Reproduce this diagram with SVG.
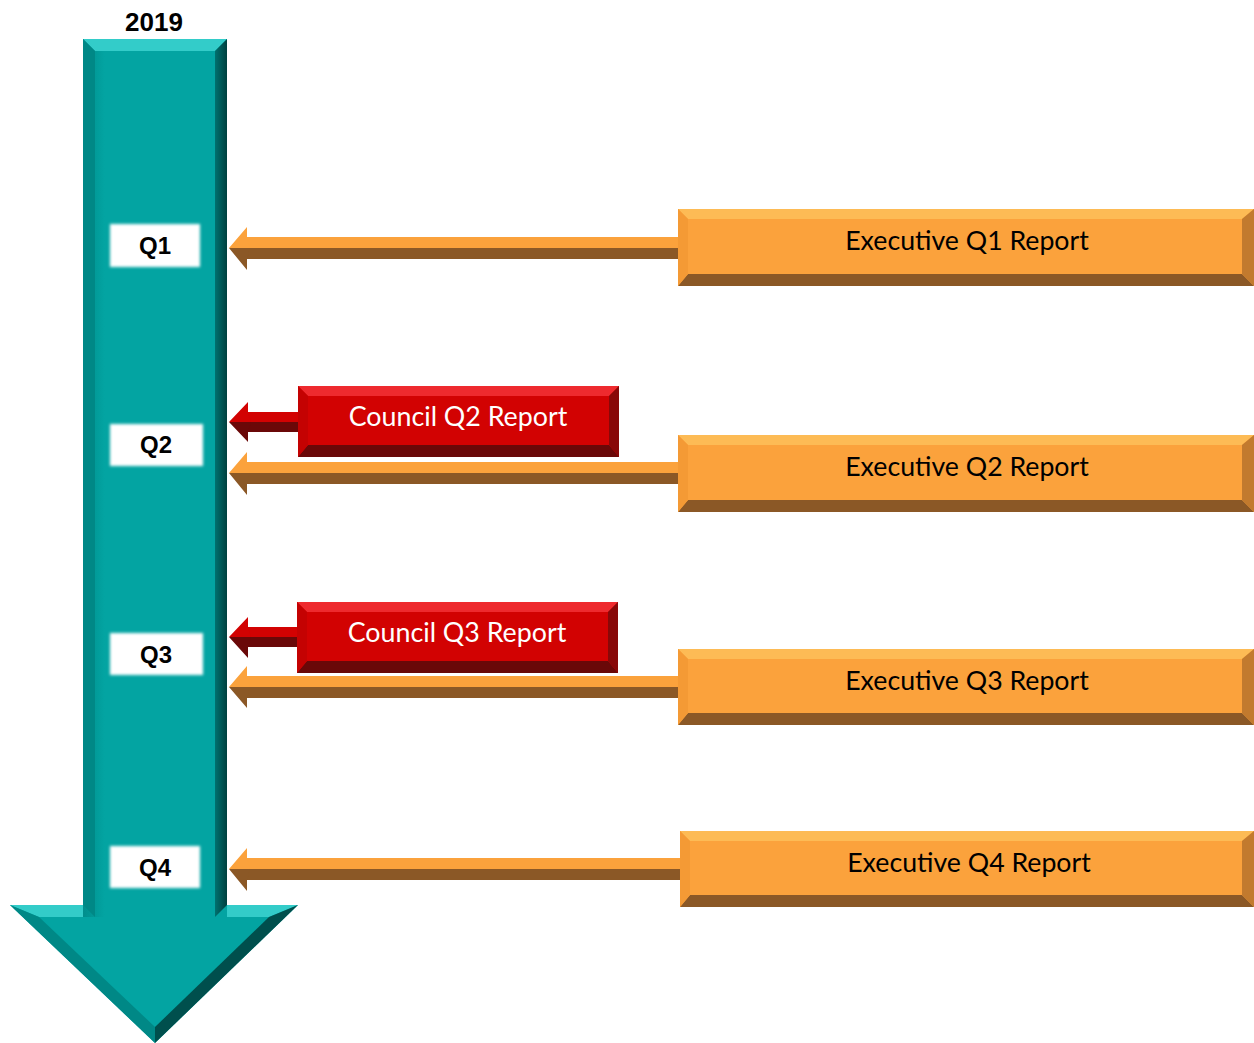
<svg xmlns="http://www.w3.org/2000/svg" width="1254" height="1043" viewBox="0 0 1254 1043">
<style>
.otop{fill:#FDBB55}.obot{fill:#8B5826}.oleft{fill:#F49A35}.oright{fill:#C27A2E}.omain{fill:#FBA23C}
.rtop{fill:#EE2A2E}.rbot{fill:#6A0808}.rleft{fill:#C40202}.rright{fill:#880808}.rmain{fill:#D20202}
.tlight{fill:#33CCC9}.tleft{fill:#008886}.tright{fill:#004F4D}.tmain{fill:#03A4A2}
.ql{font-family:"Liberation Sans",Arial,sans-serif;font-weight:bold;font-size:24px;fill:#000;text-anchor:middle}
.et{font-family:Lato,"Open Sans",sans-serif;font-size:26.7px;fill:#000;text-anchor:middle}
.ct{font-family:Lato,"Open Sans",sans-serif;font-size:26.8px;fill:#fff;text-anchor:middle}
.qbox{fill:#fff;filter:url(#soft)}
</style>
<defs>
<filter id="soft" x="-20%" y="-30%" width="140%" height="160%"><feGaussianBlur stdDeviation="1.6"/></filter>
<linearGradient id="shaftg" x1="0" y1="0" x2="1" y2="0">
<stop offset="0" stop-color="#008E8C"/><stop offset="0.15" stop-color="#03A4A2"/><stop offset="1" stop-color="#03A4A2"/>
</linearGradient>
<linearGradient id="rightg" x1="0" y1="0" x2="1" y2="0">
<stop offset="0" stop-color="#00716F"/><stop offset="1" stop-color="#00403F"/>
</linearGradient>
</defs>

<text x="154" y="31" class="ql" style="font-size:26px">2019</text>

<g id="timeline">
<polygon class="tmain" points="10,905 298,905 155,1043"/>
<polygon class="tlight" points="10,905 83,905 95,917 39,917"/>
<polygon class="tlight" points="227,905 298,905 269,917 215,917"/>
<polygon class="tleft" points="10,905 39,917 155,1027 155,1043"/>
<polygon class="tright" points="298,905 269,917 155,1027 155,1043"/>
<rect x="83" y="39" width="144" height="878" fill="url(#shaftg)"/>
<polygon class="tlight" points="83,39 227,39 215,51 95,51"/>
<polygon class="tleft" points="83,39 95,51 95,917 83,905"/>
<polygon fill="url(#rightg)" points="227,39 215,51 215,917 227,905"/>
</g>

<g id="q1"><rect class="qbox" x="110" y="224" width="90" height="43"/><text x="155" y="254" class="ql">Q1</text></g>
<g id="q2"><rect class="qbox" x="110" y="424" width="93" height="42"/><text x="156" y="453" class="ql">Q2</text></g>
<g id="q3"><rect class="qbox" x="110" y="633" width="93" height="42"/><text x="156" y="663" class="ql">Q3</text></g>
<g id="q4"><rect class="qbox" x="110" y="846" width="90" height="42"/><text x="155" y="876" class="ql">Q4</text></g>

<g id="connectors">
<!-- Exec Q1 -->
<rect class="omain" x="245" y="237" width="436" height="11"/><rect class="obot" x="245" y="248" width="436" height="11"/>
<polygon class="omain" points="229,248 247,227 247,237 250,248"/><polygon class="obot" points="229,248 250,248 247,259 247,270"/>
<!-- Exec Q2 -->
<rect class="omain" x="245" y="462" width="436" height="11"/><rect class="obot" x="245" y="473" width="436" height="11"/>
<polygon class="omain" points="229,473 247,452 247,462 250,473"/><polygon class="obot" points="229,473 250,473 247,484 247,495"/>
<!-- Exec Q3 -->
<rect class="omain" x="245" y="676" width="436" height="11"/><rect class="obot" x="245" y="687" width="436" height="11"/>
<polygon class="omain" points="229,687 247,666 247,676 250,687"/><polygon class="obot" points="229,687 250,687 247,698 247,708"/>
<!-- Exec Q4 -->
<rect class="omain" x="245" y="858" width="438" height="11"/><rect class="obot" x="245" y="869" width="438" height="11"/>
<polygon class="omain" points="229,869 247,848 247,858 250,869"/><polygon class="obot" points="229,869 250,869 247,880 247,891"/>
<!-- Council Q2 -->
<rect class="rmain" x="246" y="412" width="55" height="10"/><rect class="rbot" x="246" y="422" width="55" height="10"/>
<polygon class="rmain" points="229,422 248,402 248,412 251,422"/><polygon class="rbot" points="229,422 251,422 248,432 248,442"/>
<!-- Council Q3 -->
<rect class="rmain" x="246" y="627" width="54" height="10"/><rect class="rbot" x="246" y="637" width="54" height="10"/>
<polygon class="rmain" points="229,637 248,617 248,627 251,637"/><polygon class="rbot" points="229,637 251,637 248,647 248,658"/>
</g>

<g id="exec-q1">
<rect class="omain" x="678" y="209" width="576" height="77"/>
<polygon class="otop" points="678,209 1254,209 1242,219 688,219"/>
<polygon class="obot" points="678,286 1254,286 1242,274 688,274"/>
<polygon class="oleft" points="678,209 688,219 688,274 678,286"/>
<polygon class="oright" points="1254,209 1242,219 1242,274 1254,286"/>
<text x="967" y="250" class="et">Executive Q1 Report</text>
</g>
<g id="exec-q2">
<rect class="omain" x="678" y="435" width="576" height="77"/>
<polygon class="otop" points="678,435 1254,435 1242,445 688,445"/>
<polygon class="obot" points="678,512 1254,512 1242,500 688,500"/>
<polygon class="oleft" points="678,435 688,445 688,500 678,512"/>
<polygon class="oright" points="1254,435 1242,445 1242,500 1254,512"/>
<text x="967" y="476" class="et">Executive Q2 Report</text>
</g>
<g id="exec-q3">
<rect class="omain" x="678" y="649" width="576" height="76"/>
<polygon class="otop" points="678,649 1254,649 1242,659 688,659"/>
<polygon class="obot" points="678,725 1254,725 1242,713 688,713"/>
<polygon class="oleft" points="678,649 688,659 688,713 678,725"/>
<polygon class="oright" points="1254,649 1242,659 1242,713 1254,725"/>
<text x="967" y="690" class="et">Executive Q3 Report</text>
</g>
<g id="exec-q4">
<rect class="omain" x="680" y="831" width="574" height="76"/>
<polygon class="otop" points="680,831 1254,831 1242,841 690,841"/>
<polygon class="obot" points="680,907 1254,907 1242,895 690,895"/>
<polygon class="oleft" points="680,831 690,841 690,895 680,907"/>
<polygon class="oright" points="1254,831 1242,841 1242,895 1254,907"/>
<text x="969" y="872" class="et">Executive Q4 Report</text>
</g>

<g id="council-q2">
<rect class="rmain" x="298" y="386" width="321" height="71"/>
<polygon class="rtop" points="298,386 619,386 609,396 308,396"/>
<polygon class="rbot" points="298,457 619,457 609,445 308,445"/>
<polygon class="rleft" points="298,386 308,396 308,445 298,457"/>
<polygon class="rright" points="619,386 609,396 609,445 619,457"/>
<text x="458" y="426" class="ct">Council Q2 Report</text>
</g>
<g id="council-q3">
<rect class="rmain" x="297" y="602" width="321" height="71"/>
<polygon class="rtop" points="297,602 618,602 608,612 307,612"/>
<polygon class="rbot" points="297,673 618,673 608,661 307,661"/>
<polygon class="rleft" points="297,602 307,612 307,661 297,673"/>
<polygon class="rright" points="618,602 608,612 608,661 618,673"/>
<text x="457" y="642" class="ct">Council Q3 Report</text>
</g>
</svg>
